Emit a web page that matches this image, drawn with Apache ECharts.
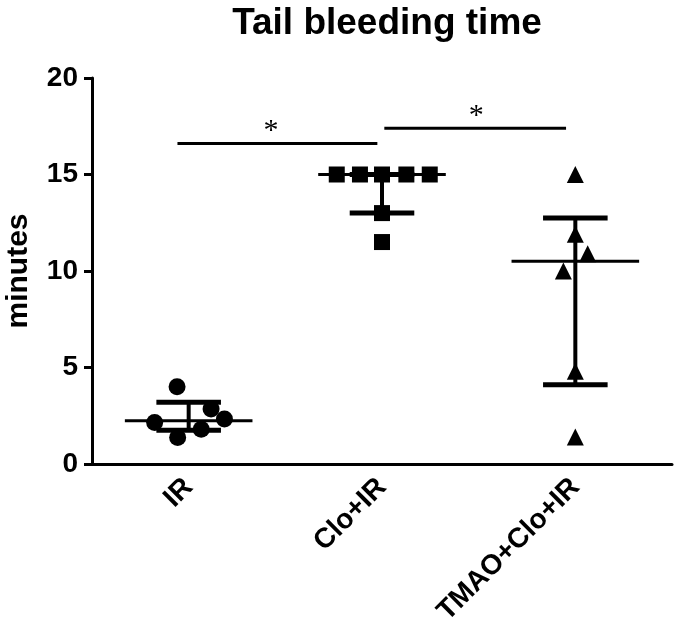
<!DOCTYPE html>
<html>
<head>
<meta charset="utf-8">
<script src="https://cdn.jsdelivr.net/npm/echarts@6/dist/echarts.min.js"></script>
<style>html,body{margin:0;padding:0;background:#fff}#c{width:685px;height:636px}</style>
</head>
<body>
<div id="c"></div>
<script>
// ---- data ----
const categories = ['IR', 'Clo+IR', 'TMAO+Clo+IR'];
const yTicks = [0, 5, 10, 15, 20];

const irValues   = [4.0, 2.15, 1.37, 1.8, 2.85, 2.33];
const irJitter   = [-0.06, -0.176, -0.057, 0.065, 0.116, 0.185];

const cloValues  = [15, 15, 15, 15, 15, 13, 11.5];
const cloJitter  = [-0.234, -0.114, 0, 0.126, 0.247, 0, 0];

const tmaoValues = [15, 11.9, 10.9, 10, 4.8, 1.4];
const tmaoJitter = [0, 0, 0.064, -0.062, 0, 0];

const medians = [2.24, 15, 10.5];
const q1s     = [1.75, 13, 4.1];
const q3s     = [3.2, 15, 12.75];

const sigFrom  = [-0.058, 1.012];
const sigTo    = [0.976, 1.952];
const sigY     = [16.6, 17.4];
const sigStarX = [0.426, 1.487];
const sigText  = ['*', '*'];

// ---- build ----
function pts(groupIdx, jit, vals) {
  return vals.map((v, i) => [groupIdx + jit[i], v]);
}
const summaryData = categories.map((c, i) => [i, medians[i], q1s[i], q3s[i]]);
const sigData = sigFrom.map((f, i) => [f, sigTo[i], sigY[i], sigStarX[i], i]);

const FONT = '"Liberation Sans", Arial, sans-serif';
const chart = echarts.init(document.getElementById('c'), null, {renderer: 'canvas'});
const mk = {color: '#000', opacity: 1};
chart.setOption({
  backgroundColor: '#fff',
  animation: false,
  title: {
    text: 'Tail bleeding time',
    left: 382, top: 0, textAlign: 'center',
    textStyle: {fontFamily: FONT, fontWeight: 'bold', fontSize: 37, color: '#000'}
  },
  grid: {left: 92, right: 13, top: 78, bottom: 172, containLabel: false, outerBoundsMode: 'none'},
  xAxis: [{
    type: 'category', data: categories, boundaryGap: true,
    axisLine: {lineStyle: {color: '#000', width: 3}},
    axisTick: {alignWithLabel: true, length: 9, lineStyle: {color: '#000', width: 3}},
    axisLabel: {rotate: 45, margin: 19, color: '#000', fontFamily: FONT, fontWeight: 'bold', fontSize: 28},
    splitLine: {show: false}
  }, {
    type: 'value', min: -0.5, max: 2.5, show: false
  }],
  yAxis: {
    type: 'value', min: yTicks[0], max: yTicks[yTicks.length - 1], interval: 5,
    name: 'minutes', nameLocation: 'middle', nameRotate: 90, nameGap: 58,
    nameTextStyle: {fontFamily: FONT, fontWeight: 'bold', fontSize: 30, color: '#000'},
    axisLine: {show: true, onZero: false, lineStyle: {color: '#000', width: 3}},
    axisTick: {show: true, length: 8, lineStyle: {color: '#000', width: 3}},
    axisLabel: {margin: 14, color: '#000', fontFamily: FONT, fontWeight: 'bold', fontSize: 28},
    splitLine: {show: false}
  },
  series: [
    {type: 'scatter', xAxisIndex: 1, symbol: 'circle', symbolSize: 17, itemStyle: mk, data: pts(0, irJitter, irValues), z: 3},
    {type: 'scatter', xAxisIndex: 1, symbol: 'rect', symbolSize: 16, itemStyle: mk, data: pts(1, cloJitter, cloValues), z: 3},
    {type: 'scatter', xAxisIndex: 1, symbol: 'triangle', symbolSize: 17, itemStyle: mk, data: pts(2, tmaoJitter, tmaoValues), z: 3},
    {
      type: 'custom', xAxisIndex: 1, z: 4, data: summaryData,
      renderItem: function (params, api) {
        const x = api.value(0), m = api.value(1), lo = api.value(2), hi = api.value(3);
        const a = api.coord([x - 0.33, m]), b = api.coord([x + 0.33, m]);
        const c1 = api.coord([x - 0.167, lo]), c2 = api.coord([x + 0.167, lo]);
        const d1 = api.coord([x - 0.167, hi]), d2 = api.coord([x + 0.167, hi]);
        const v1 = api.coord([x, lo]), v2 = api.coord([x, hi]);
        return {type: 'group', children: [
          {type: 'line', shape: {x1: a[0], y1: a[1], x2: b[0], y2: b[1]}, style: {stroke: '#000', lineWidth: 3}},
          {type: 'line', shape: {x1: v1[0], y1: v1[1], x2: v2[0], y2: v2[1]}, style: {stroke: '#000', lineWidth: 4}},
          {type: 'line', shape: {x1: c1[0], y1: c1[1], x2: c2[0], y2: c2[1]}, style: {stroke: '#000', lineWidth: 5}},
          {type: 'line', shape: {x1: d1[0], y1: d1[1], x2: d2[0], y2: d2[1]}, style: {stroke: '#000', lineWidth: 5}}
        ]};
      }
    },
    {
      type: 'custom', xAxisIndex: 1, z: 4, data: sigData,
      renderItem: function (params, api) {
        const p1 = api.coord([api.value(0), api.value(2)]);
        const p2 = api.coord([api.value(1), api.value(2)]);
        const s = api.coord([api.value(3), api.value(2)]);
        return {type: 'group', children: [
          {type: 'line', shape: {x1: p1[0], y1: p1[1], x2: p2[0], y2: p2[1]}, style: {stroke: '#000', lineWidth: 3}},
          {type: 'text', style: {text: sigText[api.value(4)], x: s[0], y: s[1] + 3, textAlign: 'center', textVerticalAlign: 'bottom',
            font: '30px "Liberation Serif", "DejaVu Serif", serif', fill: '#000'}}
        ]};
      }
    }
  ]
});
</script>
</body>
</html>
